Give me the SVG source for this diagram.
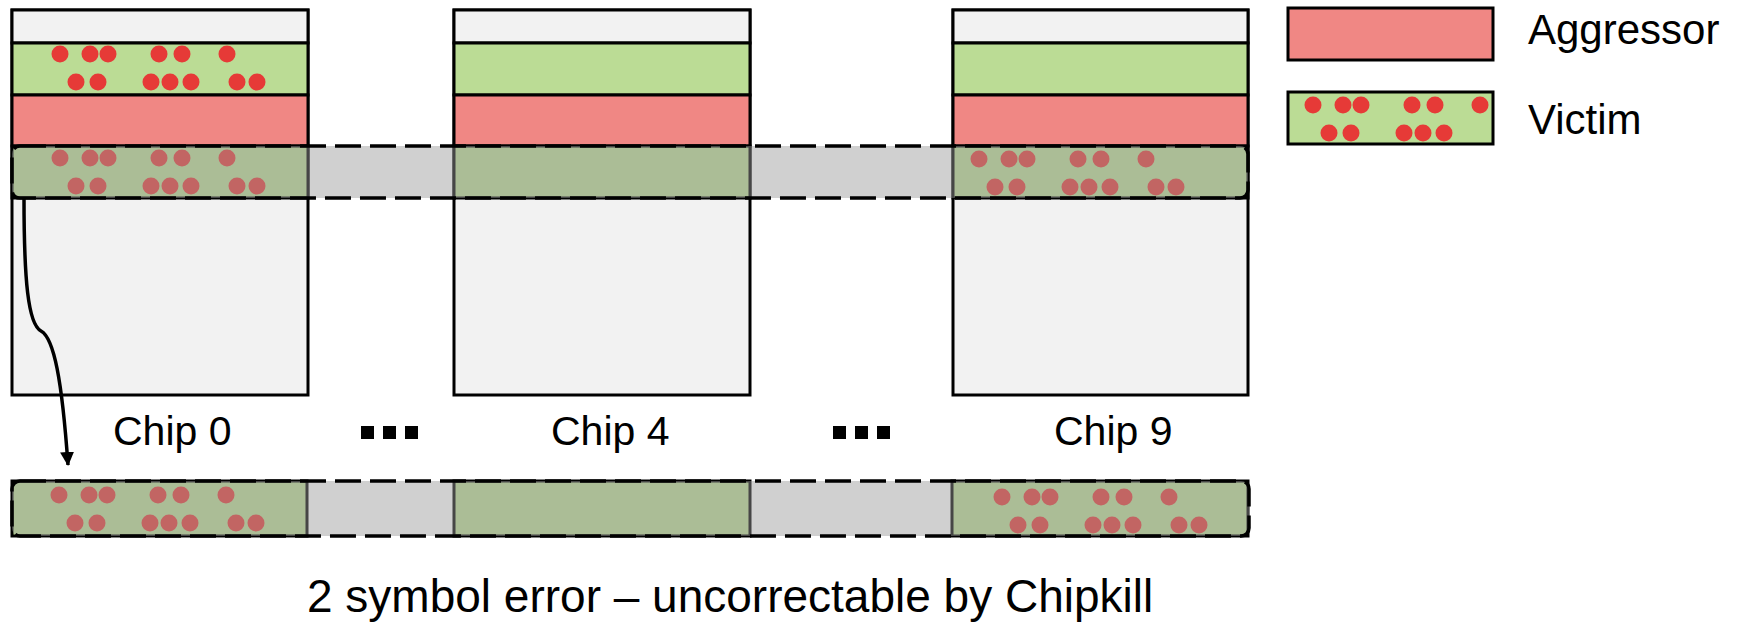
<svg xmlns="http://www.w3.org/2000/svg" width="1746" height="622" viewBox="0 0 1746 622">
  <style>
    .body { fill: #f2f2f2; stroke: #000; stroke-width: 3; }
    .top { fill: #f2f2f2; stroke: #000; stroke-width: 3; }
    .victim { fill: #bbdc95; stroke: #000; stroke-width: 3; }
    .aggr { fill: #f08784; stroke: #000; stroke-width: 3; }
    .dot { fill: #e63a37; }
    .band { fill: #989898; fill-opacity: 0.46; stroke: #000; stroke-width: 3.5; stroke-dasharray: 26 9; }
    .label { font-family: "Liberation Sans", Arial, sans-serif; font-size: 41px; fill: #000; }
    .legend-text { font-family: "Liberation Sans", Arial, sans-serif; font-size: 42px; fill: #000; }
    .caption { font-family: "Liberation Sans", Arial, sans-serif; font-size: 46px; fill: #000; }
    .conn { fill: none; stroke: #000; stroke-width: 3.5; }
    .more { fill: #000; }
  </style>
  <defs>
    <!-- first eleven flipped bits of a victim row, relative to its first spot -->
    <g id="spots-head">
      <circle class="dot" cx="0" cy="0" r="8.5"/>
      <circle class="dot" cx="30" cy="0" r="8.5"/>
      <circle class="dot" cx="48" cy="0" r="8.5"/>
      <circle class="dot" cx="99" cy="0" r="8.5"/>
      <circle class="dot" cx="122" cy="0" r="8.5"/>
      <circle class="dot" cx="167" cy="0" r="8.5"/>
      <circle class="dot" cx="16" cy="28" r="8.5"/>
      <circle class="dot" cx="38" cy="28" r="8.5"/>
      <circle class="dot" cx="91" cy="28" r="8.5"/>
      <circle class="dot" cx="110" cy="28" r="8.5"/>
      <circle class="dot" cx="131" cy="28" r="8.5"/>
    </g>
    <!-- full row pattern -->
    <g id="spots">
      <use href="#spots-head"/>
      <circle class="dot" cx="177" cy="28" r="8.5"/>
      <circle class="dot" cx="197" cy="28" r="8.5"/>
    </g>
    <marker id="arrow" viewBox="0 0 14 14" refX="13" refY="7" markerWidth="14" markerHeight="14" markerUnits="userSpaceOnUse" orient="auto">
      <path d="M0,0 L14,7 L0,14 Z" fill="#000"/>
    </marker>
  </defs>

  <!-- Chip 0 -->
  <g id="chip-0">
    <rect class="body" x="12" y="10" width="296" height="385"/>
    <rect class="top" x="12" y="10" width="296" height="33"/>
    <rect class="victim" x="12" y="43" width="296" height="52"/>
    <use href="#spots" transform="translate(60,54)"/>
    <rect class="aggr" x="12" y="95" width="296" height="51"/>
    <rect class="victim" x="12" y="146" width="296" height="52"/>
    <use href="#spots" transform="translate(60,158)"/>
  </g>

  <!-- Chip 4 -->
  <g id="chip-4">
    <rect class="body" x="454" y="10" width="296" height="385"/>
    <rect class="top" x="454" y="10" width="296" height="33"/>
    <rect class="victim" x="454" y="43" width="296" height="52"/>
    <rect class="aggr" x="454" y="95" width="296" height="51"/>
    <rect class="victim" x="454" y="146" width="296" height="52"/>
  </g>

  <!-- Chip 9 -->
  <g id="chip-9">
    <rect class="body" x="953" y="10" width="295" height="385"/>
    <rect class="top" x="953" y="10" width="295" height="33"/>
    <rect class="victim" x="953" y="43" width="295" height="52"/>
    <rect class="aggr" x="953" y="95" width="295" height="51"/>
    <rect class="victim" x="953" y="146" width="295" height="52"/>
    <use href="#spots" transform="translate(979,159)"/>
  </g>

  <!-- Row accessed across all chips -->
  <g id="row-band">
    <rect class="band" x="12" y="146" width="1236" height="52" rx="8"/>
  </g>

  <!-- Resulting word read out of the row -->
  <g id="word">
    <rect class="victim" x="12" y="481" width="295" height="55"/>
    <use href="#spots" transform="translate(59,495)"/>
    <rect class="victim" x="454" y="481" width="296" height="55"/>
    <rect class="victim" x="952" y="481" width="296" height="55"/>
    <use href="#spots" transform="translate(1002,497)"/>
    <rect class="band" x="12" y="481" width="1237" height="55" rx="8"/>
  </g>

  <!-- Legend -->
  <g id="legend-aggressor">
    <rect class="aggr" x="1288" y="8" width="205" height="52"/>
    <text class="legend-text" x="1528" y="44">Aggressor</text>
  </g>
  <g id="legend-victim">
    <rect class="victim" x="1288" y="92" width="205" height="52"/>
    <use href="#spots-head" transform="translate(1313,105)"/>
    <text class="legend-text" x="1528" y="134">Victim</text>
  </g>

  <!-- Connectors -->
  <g id="connectors">
    <path class="conn" d="M24,198 C24,280 28,324 41,331 C54,338 62,380 68,465" marker-end="url(#arrow)"/>
  </g>

  <!-- Chip labels and elided chips -->
  <g id="labels">
    <text class="label" x="113" y="445">Chip 0</text>
    <text class="label" x="551" y="445">Chip 4</text>
    <text class="label" x="1054" y="445">Chip 9</text>
    <rect class="more" x="361" y="426" width="13" height="13"/>
    <rect class="more" x="383" y="426" width="13" height="13"/>
    <rect class="more" x="405" y="426" width="13" height="13"/>
    <rect class="more" x="833" y="426" width="13" height="13"/>
    <rect class="more" x="855" y="426" width="13" height="13"/>
    <rect class="more" x="877" y="426" width="13" height="13"/>
    <text class="caption" x="307" y="612">2 symbol error – uncorrectable by Chipkill</text>
  </g>
</svg>
